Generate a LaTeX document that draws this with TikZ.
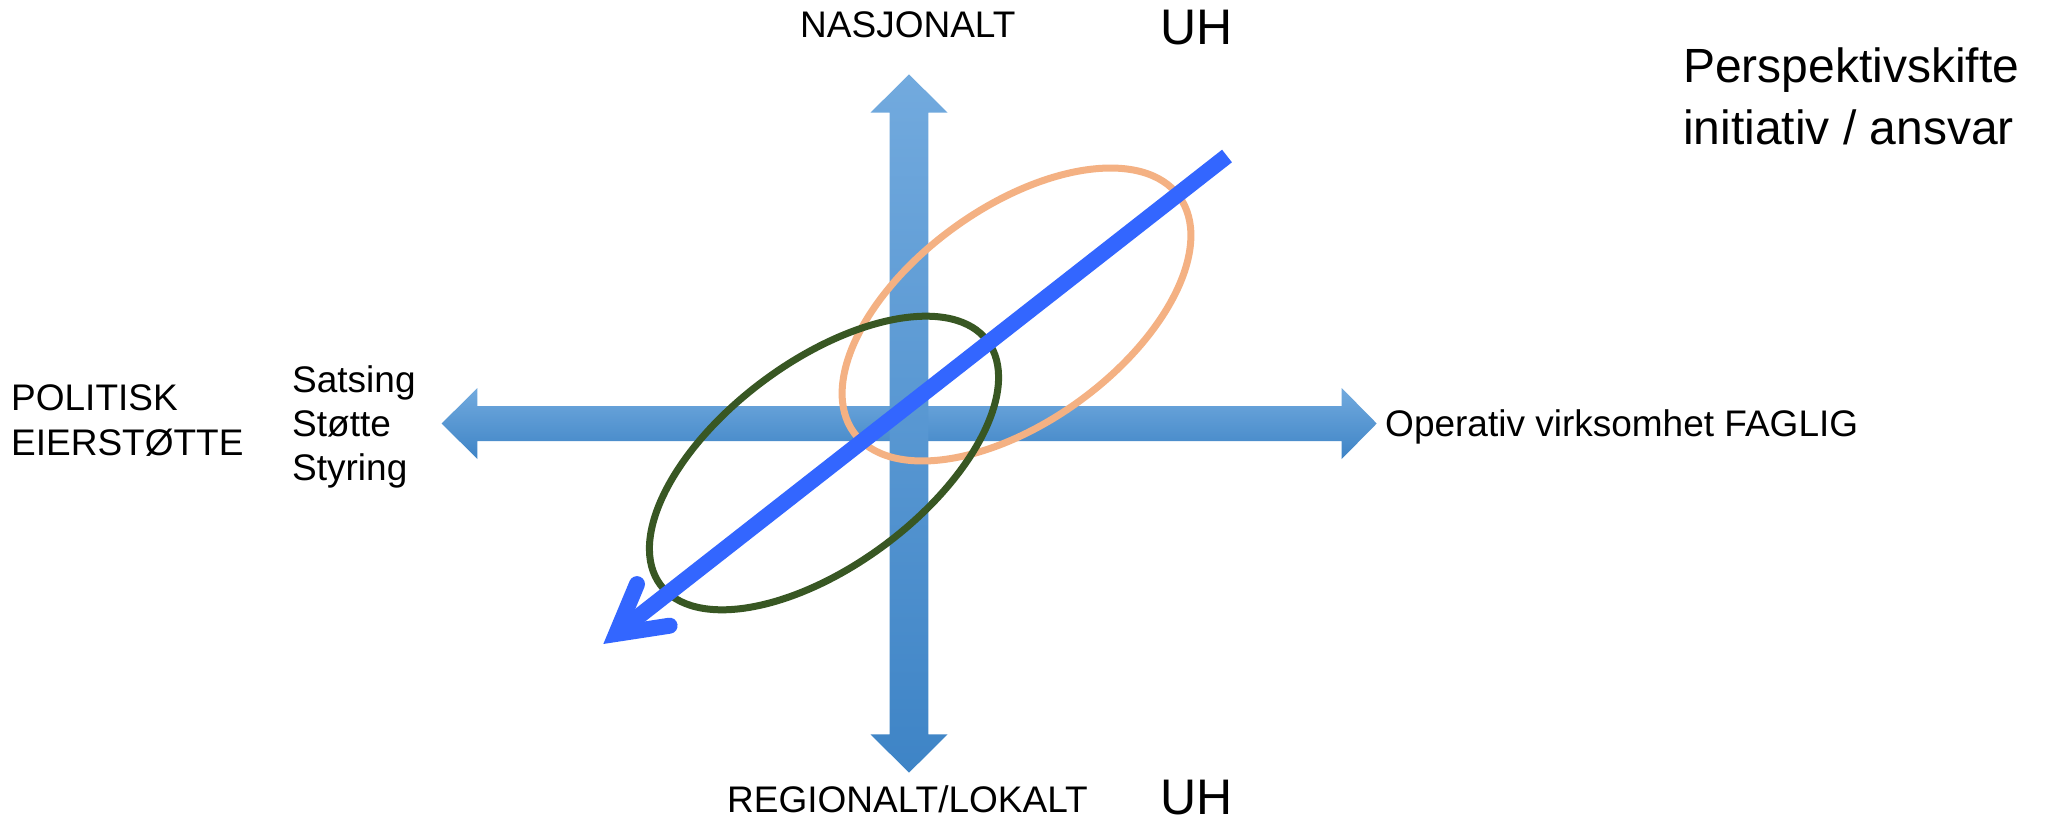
\documentclass[tikz,border=0pt]{standalone}
\usepackage{fontspec}
\setmainfont{Liberation Sans}
\definecolor{ahtop}{RGB}{114,170,222}
\definecolor{ahbot}{RGB}{62,132,198}
\definecolor{diagblue}{RGB}{51,102,255}
\definecolor{orng}{RGB}{244,177,131}
\definecolor{grn}{RGB}{56,87,35}
\tikzset{
  lbl/.style={font=\fontsize{37}{44}\selectfont, inner sep=0pt, anchor=base west},
  biglbl/.style={font=\fontsize{48}{56}\selectfont, inner sep=0pt, anchor=base west},
  uhlbl/.style={font=\fontsize{50}{56}\selectfont, inner sep=0pt, anchor=base west},
  axisarrow/.style={shade, top color=ahtop, bottom color=ahbot, draw=none},
  ring/.style={line width=7pt},
}
\begin{document}
\begin{tikzpicture}[x=1pt,y=-1pt]
\useasboundingbox (0,0) rectangle (2047,825);
\fill[white] (0,0) rectangle (2047,825);
% horizontal double arrow
\path[axisarrow] (441.7,423.5) -- (477.3,388) -- (477.3,406) -- (1341.7,406) -- (1341.7,388)
  -- (1376.7,423.5) -- (1341.7,459) -- (1341.7,441) -- (477.3,441) -- (477.3,459) -- cycle;
% vertical double arrow
\path[axisarrow] (909,74.3) -- (947.5,112.7) -- (928.4,112.7) -- (928.4,734.3) -- (947.5,734.3)
  -- (909,772.7) -- (870.5,734.3) -- (889.6,734.3) -- (889.6,112.7) -- (870.5,112.7) -- cycle;
% ellipses
\draw[ring, orng, rotate around={36:(1016.5,314.5)}] (1016.5,314.5) ellipse [x radius=201, y radius=107];
\draw[ring, grn, rotate around={36.7:(824,463)}] (824,463) ellipse [x radius=204, y radius=102];
% diagonal arrow
\coordinate (dstart) at (1227,156);
\coordinate (dvert) at (616.2,633.9);
\coordinate (barbA) at (637.0,584.1);
\coordinate (barbB) at (669.6,625.7);
\draw[diagblue, line width=16pt, line cap=butt] (dstart) -- (dvert);
\draw[diagblue, line width=16pt, line cap=round, line join=miter] (barbA) -- (dvert) -- (barbB);
% labels
\node[lbl] (nasj) at (800,37) {NASJONALT};
\node[uhlbl] (uhtop) at (1160,44) {UH};
\node[biglbl] (persp1) at (1683,82) {Perspektivskifte};
\node[biglbl] (persp2) at (1683,144) {initiativ / ansvar};
\node[lbl] (pol1) at (11,410) {POLITISK};
\node[lbl] (pol2) at (11,455) {EIERSTØTTE};
\node[lbl] (sat1) at (292,392) {Satsing};
\node[lbl] (sat2) at (292,436) {Støtte};
\node[lbl] (sat3) at (292,480) {Styring};
\node[lbl] (oper) at (1385,436) {Operativ virksomhet FAGLIG};
\node[lbl] (reg) at (727,812) {REGIONALT/LOKALT};
\node[uhlbl] (uhbot) at (1160,814) {UH};
\end{tikzpicture}
\end{document}
